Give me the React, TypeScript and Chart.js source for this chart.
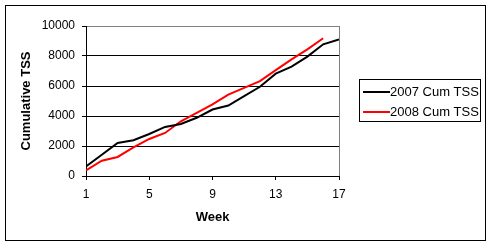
import React, { useEffect, useRef } from "react";
import { Chart, registerables } from "chart.js";

Chart.register(...registerables);

const weeks = [1, 2, 3, 4, 5, 6, 7, 8, 9, 10, 11, 12, 13, 14, 15, 16, 17];
const cum2007 = [640, 1420, 2200, 2380, 2800, 3270, 3470, 3880, 4430, 4700, 5320, 5950, 6820, 7290, 7960, 8780, 9110];
const cum2008 = [380, 1020, 1270, 1910, 2470, 2870, 3650, 4210, 4770, 5430, 5880, 6330, 7060, 7770, 8440, 9180];
const xTicks = [1, 5, 9, 13, 17];
const yTicks = [0, 2000, 4000, 6000, 8000, 10000];
const seriesNames = ["2007 Cum TSS", "2008 Cum TSS"];
const seriesColors = ["#000000", "#ff0000"];
const xTitle = "Week";
const yTitle = "Cumulative TSS";

const FONT = '"Liberation Sans", Arial, sans-serif';

const framePlugin = {
  id: "frame",
  afterDraw(chart: any) {
    const ctx = chart.ctx;
    const ca = chart.chartArea;
    ctx.save();
    // gray right border of plot area
    ctx.strokeStyle = "#808080";
    ctx.lineWidth = 1;
    ctx.beginPath();
    ctx.moveTo(Math.round(ca.right) - 0.5 + 1, ca.top);
    ctx.lineTo(Math.round(ca.right) - 0.5 + 1, ca.bottom);
    ctx.stroke();
    // outer chart border
    ctx.strokeStyle = "#000000";
    ctx.strokeRect(5.5, 5.5, 480, 235);
    // legend box
    ctx.strokeRect(359.5, 79.5, 121, 42);
    ctx.font = "13px " + FONT;
    ctx.textBaseline = "middle";
    ctx.textAlign = "left";
    seriesNames.forEach((name, i) => {
      const y = 92 + i * 20;
      ctx.fillStyle = seriesColors[i];
      ctx.fillRect(363, y - 1, 27, 2);
      ctx.fillStyle = "#000000";
      ctx.fillText(name, 390, y);
    });
    ctx.restore();
  },
};

export default function App() {
  const ref = useRef<HTMLCanvasElement | null>(null);

  useEffect(() => {
    document.body.style.margin = "0";
    const canvas = ref.current;
    if (!canvas) return;
    const series = [cum2007, cum2008];
    const chart = new Chart(canvas, {
      type: "line",
      data: {
        datasets: series.map((vals, i) => ({
          label: seriesNames[i],
          data: vals.map((v, j) => ({ x: weeks[j], y: v })),
          borderColor: seriesColors[i],
          backgroundColor: seriesColors[i],
          borderWidth: 2,
          pointRadius: 0,
          tension: 0,
          fill: false,
        })),
      },
      options: {
        responsive: false,
        animation: false,
        layout: { padding: { left: 0, right: 154, top: 26, bottom: 0 } },
        plugins: {
          legend: { display: false },
          tooltip: { enabled: false },
        },
        scales: {
          x: {
            type: "linear",
            min: xTicks[0],
            max: xTicks[xTicks.length - 1],
            afterBuildTicks: (scale: any) => {
              scale.ticks = xTicks.map((v) => ({ value: v }));
            },
            afterFit: (scale: any) => {
              scale.height = 71;
            },
            grid: {
              drawOnChartArea: false,
              drawTicks: true,
              tickLength: 4,
              tickColor: "#000000",
            },
            border: { display: true, color: "#000000", width: 1 },
            ticks: {
              color: "#000000",
              padding: 7,
              font: { family: FONT, size: 12 },
              maxRotation: 0,
              autoSkip: false,
            },
            title: {
              display: true,
              text: xTitle,
              color: "#000000",
              font: { family: FONT, size: 13, weight: "bold" },
              padding: { top: 0, bottom: 22 },
            },
          },
          y: {
            type: "linear",
            min: yTicks[0],
            max: yTicks[yTicks.length - 1],
            afterBuildTicks: (scale: any) => {
              scale.ticks = yTicks.map((v) => ({ value: v }));
            },
            afterFit: (scale: any) => {
              scale.width = 86;
            },
            grid: {
              color: (c: any) => (c.tick && c.tick.value === yTicks[yTicks.length - 1] ? "#808080" : "#000000"),
              tickColor: "#000000",
              tickLength: 4,
              lineWidth: 1,
            },
            border: { display: true, color: "#000000", width: 1 },
            ticks: {
              color: "#000000",
              padding: 7,
              font: { family: FONT, size: 12 },
              callback: (v: any) => String(v),
            },
            title: {
              display: true,
              text: yTitle,
              color: "#000000",
              font: { family: FONT, size: 13, weight: "bold" },
              padding: { top: 19, bottom: 0 },
            },
          },
        },
      },
      plugins: [framePlugin],
    });
    return () => chart.destroy();
  }, []);

  return <canvas ref={ref} width={493} height={247} style={{ display: "block" }} />;
}
